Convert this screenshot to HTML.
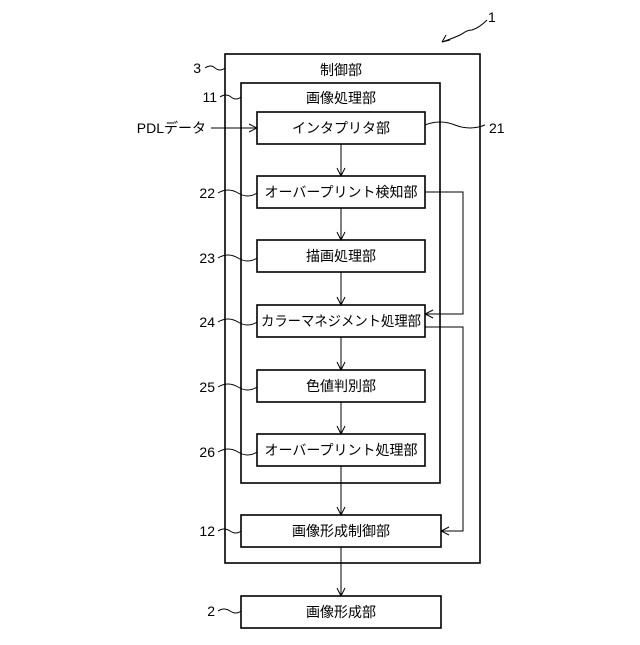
<!DOCTYPE html>
<html><head><meta charset="utf-8"><style>body{margin:0;background:#fff}</style></head><body>
<svg width="640" height="640" viewBox="0 0 640 640" xmlns="http://www.w3.org/2000/svg" font-family="Liberation Sans, Noto Sans CJK JP, sans-serif" font-size="14" fill="#000">
<defs><marker id="a" markerWidth="10" markerHeight="10" refX="9" refY="5" orient="auto" markerUnits="userSpaceOnUse"><path d="M1,1 L9,5 L1,9" fill="none" stroke="#000" stroke-width="1"/></marker></defs>
<g fill="none" stroke="#000" stroke-width="1.6">
<rect x="225" y="54" width="255" height="509"/>
<rect x="241" y="83" width="199" height="400"/>
<rect x="257" y="112" width="168" height="32"/>
<rect x="257" y="176" width="168" height="32"/>
<rect x="257" y="240" width="168" height="32"/>
<rect x="257" y="305" width="168" height="32"/>
<rect x="257" y="370" width="168" height="32"/>
<rect x="257" y="434" width="168" height="32"/>
<rect x="241" y="515" width="200" height="32"/>
<rect x="241" y="596" width="200" height="32"/>
</g>
<g fill="none" stroke="#000" stroke-width="1">
<line x1="341" y1="144" x2="341" y2="176" marker-end="url(#a)"/>
<line x1="341" y1="208" x2="341" y2="240" marker-end="url(#a)"/>
<line x1="341" y1="272" x2="341" y2="305" marker-end="url(#a)"/>
<line x1="341" y1="337" x2="341" y2="370" marker-end="url(#a)"/>
<line x1="341" y1="402" x2="341" y2="434" marker-end="url(#a)"/>
<line x1="341" y1="466" x2="341" y2="515" marker-end="url(#a)"/>
<line x1="341" y1="547" x2="341" y2="596" marker-end="url(#a)"/>
<line x1="211" y1="128" x2="257" y2="128" marker-end="url(#a)"/>
<polyline points="425,192 463,192 463,314 425,314" marker-end="url(#a)"/>
<polyline points="425,327 463,327 463,531 441,531" marker-end="url(#a)"/>
<path d="M205,68 q6,-4 10,0 q5,4 10,0"/>
<path d="M220,97 q6,-4 11,0 q5,4 10,0"/>
<path d="M425,125 q15,-6 30,0 q15,6 30,0"/>
<path d="M218,193 q10,-6 20,0 q10,6 19,0"/>
<path d="M218,258 q10,-6 20,0 q10,6 19,0"/>
<path d="M218,322 q10,-6 20,0 q10,6 19,0"/>
<path d="M218,387 q10,-6 20,0 q10,6 19,0"/>
<path d="M218,452 q10,-6 20,0 q10,6 19,0"/>
<path d="M218,531 q6,-4 12,0 q6,4 11,0"/>
<path d="M218,611 q6,-4 12,0 q6,4 11,0"/>
<path d="M487,20 q-8,8 -15,10 q-5,0 -10,4 q-8,4 -20,8"/>
<path d="M442,42 l8,-2 M442,42 l4,-7"/>
</g>
<g text-anchor="middle">
<text x="341" y="75">制御部</text>
<text x="341" y="103">画像処理部</text>
<text x="341" y="133">インタプリタ部</text>
<text x="341" y="197">オーバープリント検知部</text>
<text x="341" y="261">描画処理部</text>
<text x="341" y="326" textLength="160" lengthAdjust="spacingAndGlyphs">カラーマネジメント処理部</text>
<text x="341" y="391">色値判別部</text>
<text x="341" y="455">オーバープリント処理部</text>
<text x="341" y="536">画像形成制御部</text>
<text x="341" y="617">画像形成部</text>
</g>
<g text-anchor="end">
<text x="201" y="73">3</text>
<text x="217" y="102">11</text>
<text x="206" y="133">PDLデータ</text>
<text x="215" y="198">22</text>
<text x="215" y="263">23</text>
<text x="215" y="327">24</text>
<text x="215" y="392">25</text>
<text x="215" y="457">26</text>
<text x="215" y="536">12</text>
<text x="215" y="616">2</text>
</g>
<text x="489" y="133">21</text>
<text x="488" y="22">1</text>
</svg>
</body></html>
